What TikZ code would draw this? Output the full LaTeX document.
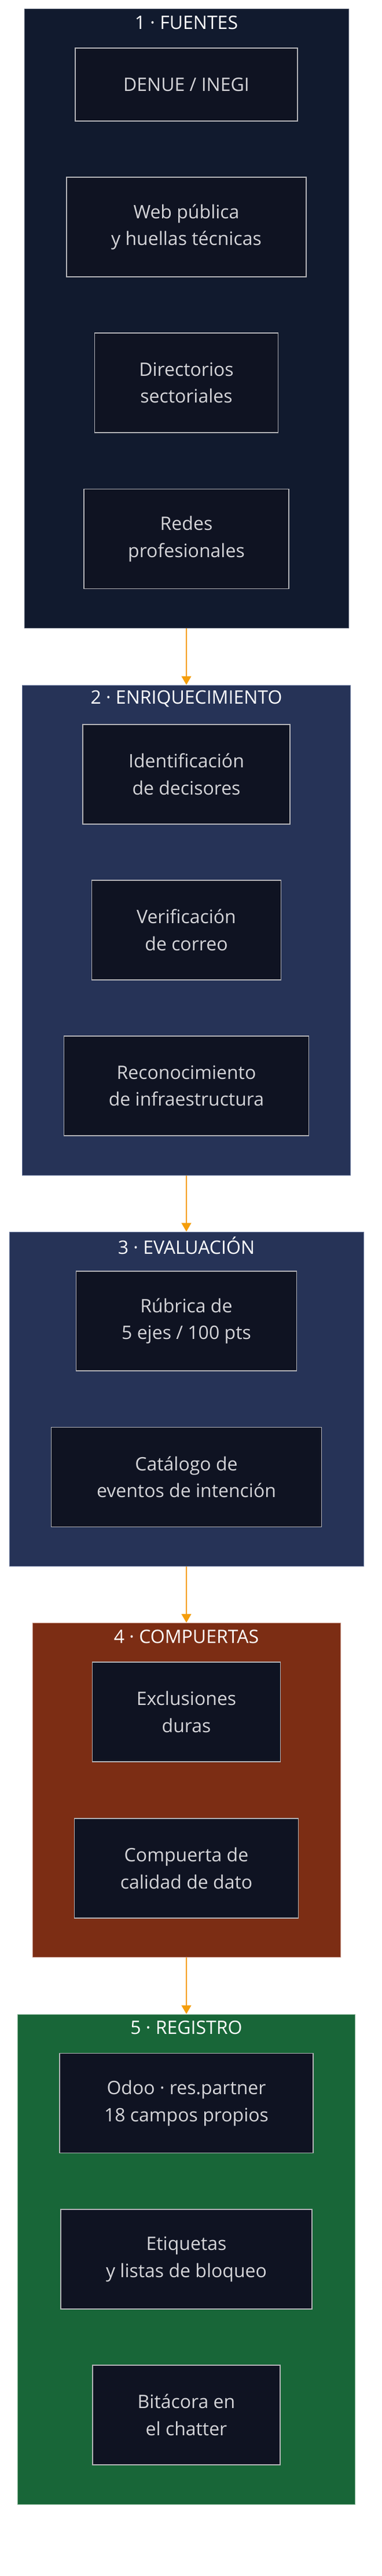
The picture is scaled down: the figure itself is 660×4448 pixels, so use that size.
\documentclass[tikz,border=0pt]{standalone}
\usepackage{fontspec}
\setmainfont{Open Sans}
\usetikzlibrary{arrows.meta}
\definecolor{cfuente}{HTML}{111A2E}
\definecolor{cfuenteline}{HTML}{4C5466}
\definecolor{cenriq}{HTML}{263357}
\definecolor{cenriqline}{HTML}{66759A}
\definecolor{ccomp}{HTML}{7C2D14}
\definecolor{ccompline}{HTML}{C08A7A}
\definecolor{creg}{HTML}{186638}
\definecolor{cregline}{HTML}{7FB08F}
\definecolor{boxfill}{HTML}{0F1322}
\definecolor{boxline}{HTML}{B4B4B8}
\definecolor{boxtext}{HTML}{D4D4D8}
\definecolor{flow}{HTML}{F59E0B}
\tikzset{
  cluster/.style={line width=1pt, inner sep=0pt},
  stepbox/.style={draw=boxline, fill=boxfill, line width=1.5pt, text=boxtext,
    align=center, inner sep=0pt, minimum height=172pt,
    font=\fontsize{32}{46.4}\selectfont},
  ctitle/.style={text=white, inner sep=0pt, font=\fontsize{32}{46.4}\selectfont},
  flowarrow/.style={draw=flow, line width=1.3pt, -{Triangle[length=15pt,width=17pt]}}
}
\begin{document}
\begin{tikzpicture}[x=1pt,y=-1pt]
\fill[white] (0,0) rectangle (660,4448);
\useasboundingbox (0,0) rectangle (660,4448);

% 1 FUENTES
\node[cluster, fill=cfuente, draw=cfuenteline, minimum width=560pt, minimum height=1069pt] (c1) at (322,549.8) {};
\node[ctitle] (t1) at (322,39) {1 · FUENTES};
\node[stepbox, minimum width=384pt, minimum height=126pt] (n11) at (322,146) {DENUE / INEGI};
\node[stepbox, minimum width=414pt] (n12) at (322,392) {Web pública\\y huellas técnicas};
\node[stepbox, minimum width=317pt] (n13) at (322,661) {Directorios\\sectoriales};
\node[stepbox, minimum width=354pt] (n14) at (322,930.7) {Redes\\profesionales};

% 2 ENRIQUECIMIENTO
\node[cluster, fill=cenriq, draw=cenriqline, minimum width=567pt, minimum height=846pt] (c2) at (322,1606) {};
\node[ctitle] (t2) at (322,1207) {2 · ENRIQUECIMIENTO};
\node[stepbox, minimum width=358pt] (n21) at (322,1336.8) {Identificación\\de decisores};
\node[stepbox, minimum width=327pt] (n22) at (322,1606) {Verificación\\de correo};
\node[stepbox, minimum width=423pt] (n23) at (322,1875) {Reconocimiento\\de infraestructura};

% 3 EVALUACION
\node[cluster, fill=cenriq, draw=cenriqline, minimum width=612pt, minimum height=577pt] (c3) at (322,2415.6) {};
\node[ctitle] (t3) at (322,2150.5) {3 · EVALUACIÓN};
\node[stepbox, minimum width=381pt] (n31) at (322,2281) {Rúbrica de\\5 ejes / 100 pts};
\node[stepbox, minimum width=467pt] (n32) at (322,2550.4) {Catálogo de\\eventos de intención};

% 4 COMPUERTAS
\node[cluster, fill=ccomp, draw=ccompline, minimum width=532pt, minimum height=577pt] (c4) at (322,3090.8) {};
\node[ctitle] (t4) at (322,2826) {4 · COMPUERTAS};
\node[stepbox, minimum width=325pt] (n41) at (322,2956) {Exclusiones\\duras};
\node[stepbox, minimum width=387pt] (n42) at (322,3226) {Compuerta de\\calidad de dato};

% 5 REGISTRO
\node[cluster, fill=creg, draw=cregline, minimum width=583pt, minimum height=846pt] (c5) at (322,3901) {};
\node[ctitle] (t5) at (322,3501.5) {5 · REGISTRO};
\node[stepbox, minimum width=438pt] (n51) at (322,3631.6) {Odoo · res.partner\\18 campos propios};
\node[stepbox, minimum width=434pt] (n52) at (322,3901) {Etiquetas\\y listas de bloqueo};
\node[stepbox, minimum width=324pt] (n53) at (322,4170) {Bitácora en\\el chatter};

\draw[flowarrow] (c1.south) -- (c2.north);
\draw[flowarrow] (c2.south) -- (c3.north);
\draw[flowarrow] (c3.south) -- (c4.north);
\draw[flowarrow] (c4.south) -- (c5.north);
\end{tikzpicture}
\end{document}
